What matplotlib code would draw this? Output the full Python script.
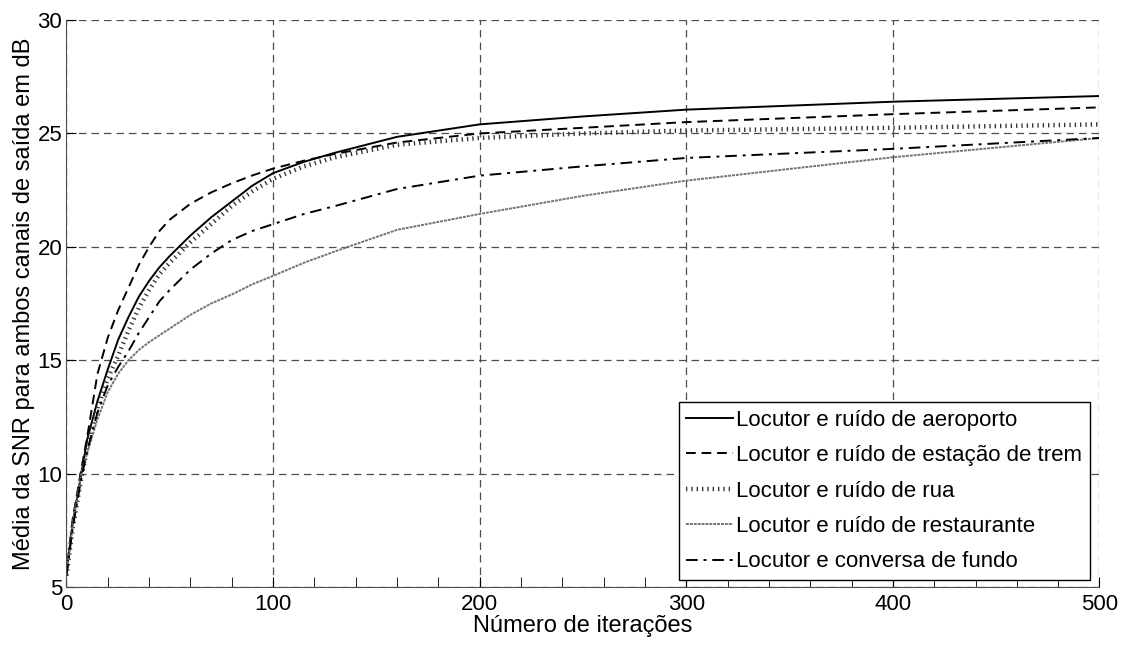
import numpy as np
import matplotlib
matplotlib.use('Agg')
import matplotlib.pyplot as plt
from matplotlib.ticker import MultipleLocator

plt.rcParams['font.family'] = ['Liberation Sans', 'DejaVu Sans']

# iteracoes (eixo x)
it = [0, 3, 7, 10, 15, 20, 25, 30, 35, 40, 45, 50, 60, 70, 80, 90, 100, 115, 130, 160, 200, 250, 300, 400, 500]

# SNR media (dB)
aeroporto = [5.6, 7.8, 9.9, 11.5, 13.2, 14.6, 15.9, 16.9, 17.8, 18.5, 19.1, 19.6, 20.5, 21.3, 22.0, 22.7, 23.25, 23.75, 24.15, 24.85, 25.4, 25.75, 26.05, 26.4, 26.65]
trem = [5.6, 8.0, 10.1, 11.6, 14.4, 16.0, 17.2, 18.2, 19.2, 20.0, 20.7, 21.2, 21.9, 22.4, 22.8, 23.15, 23.45, 23.8, 24.1, 24.6, 25.0, 25.25, 25.5, 25.85, 26.15]
rua = [5.5, 7.6, 9.7, 11.1, 12.9, 14.2, 15.2, 16.3, 17.3, 18.1, 18.8, 19.3, 20.2, 21.0, 21.8, 22.45, 23.0, 23.55, 23.95, 24.5, 24.8, 25.0, 25.13, 25.25, 25.4]
restaurante = [5.5, 7.8, 9.9, 10.9, 12.4, 13.6, 14.4, 15.0, 15.45, 15.8, 16.1, 16.4, 17.0, 17.5, 17.9, 18.35, 18.72, 19.3, 19.8, 20.75, 21.45, 22.25, 22.92, 23.95, 24.8]
conversa = [5.5, 7.6, 9.7, 11.0, 12.7, 13.9, 14.7, 15.4, 16.2, 16.9, 17.6, 18.1, 19.0, 19.7, 20.3, 20.7, 21.0, 21.45, 21.8, 22.55, 23.14, 23.55, 23.92, 24.32, 24.8]

fig = plt.figure(figsize=(11.21, 6.47), dpi=100)
ax = fig.add_axes([0.0593, 0.0927, 0.9215, 0.8763])

ax.plot(it, aeroporto, color='black', lw=1.4, label='Locutor e ruído de aeroporto')
ax.plot(it, trem, color='black', lw=1.4, linestyle=(0, (5, 3)), label='Locutor e ruído de estação de trem')
ax.plot(it, rua, color='0.2', lw=3.2, linestyle=(0, (0.3, 0.9)), label='Locutor e ruído de rua')
ax.plot(it, restaurante, color='0.45', lw=1.4, linestyle=(0, (1.5, 0.5)), label='Locutor e ruído de restaurante')
ax.plot(it, conversa, color='black', lw=1.4, linestyle=(0, (6, 3, 1.5, 3)), label='Locutor e conversa de fundo')

ax.set_xlim(0, 500)
ax.set_ylim(5, 30)
ax.xaxis.set_major_locator(MultipleLocator(100))
ax.xaxis.set_minor_locator(MultipleLocator(20))
ax.yaxis.set_major_locator(MultipleLocator(5))
ax.grid(True, which='major', color='0.3', linestyle=(0, (6, 4)), lw=0.9)
ax.tick_params(which='both', direction='in', labelsize=16, pad=3)
ax.tick_params(axis='x', pad=5)
ax.tick_params(which='major', length=7)
ax.tick_params(which='minor', length=7)
ax.spines['top'].set_visible(False)
ax.spines['right'].set_visible(False)
for s in ['left', 'bottom']:
    ax.spines[s].set_color('0.3')

ax.set_xlabel('Número de iterações', fontsize=17, labelpad=0)
ax.set_ylabel('Média da SNR para ambos canais de saída em dB', fontsize=17, labelpad=2)

leg = ax.legend(loc='lower right', bbox_to_anchor=(0.991, 0.012), borderaxespad=0,
                fontsize=16, handlelength=2.1, handletextpad=0.15, labelspacing=0.65,
                fancybox=False, framealpha=1, edgecolor='black', borderpad=0.35)
leg.get_frame().set_linewidth(1.0)

fig.savefig('out.png', dpi=100)
